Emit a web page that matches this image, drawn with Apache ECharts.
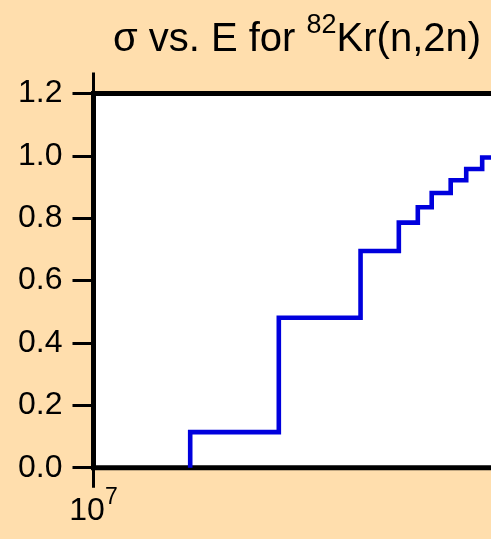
<!DOCTYPE html>
<html>
<head>
<meta charset="utf-8">
<script src="https://cdn.jsdelivr.net/npm/echarts@6/dist/echarts.min.js"></script>
<style>
  html, body { margin: 0; padding: 0; background: #FFDEAD; overflow: hidden; width: 491px; height: 539px; }
  #chart { width: 600px; height: 539px; }
</style>
</head>
<body>
<div id="chart"></div>
<script>
// Group boundaries (eV) and the cross section (b) on each group
const energyEdges = [1.606e7, 2.479e7, 3.700e7, 4.463e7, 4.898e7, 5.243e7, 5.754e7, 6.209e7, 6.714e7, 7.2e7];
const sigmaValues = [0.114, 0.481, 0.695, 0.786, 0.835, 0.881, 0.922, 0.958, 0.995];
const yTicks = [0.0, 0.2, 0.4, 0.6, 0.8, 1.0, 1.2];

// Step points: start at zero on the first edge, then one point per group start
const stepData = [[energyEdges[0], 0]];
sigmaValues.forEach((v, i) => stepData.push([energyEdges[i], v]));
stepData.push([energyEdges[energyEdges.length - 1], sigmaValues[sigmaValues.length - 1]]);

const FONT = 'Liberation Sans, Arial, sans-serif';
const chart = echarts.init(document.getElementById('chart'));

const tickStyle = { color: '#000', width: 3 };

chart.setOption({
  backgroundColor: '#FFDEAD',
  animation: false,
  title: {
    text: '{a|σ vs. E for }{s|82}{a|Kr(n,2n)}',
    left: 292,
    textAlign: 'center',
    top: 7,
    textStyle: {
      rich: {
        a: { fontFamily: FONT, fontSize: 40, fontWeight: 'normal', color: '#000' },
        s: { fontFamily: FONT, fontSize: 27, fontWeight: 'normal', color: '#000', padding: [0, 0, 28, 0] }
      }
    }
  },
  grid: {
    left: 93.5, top: 93.5, bottom: 71.3, width: 470,
    show: true, backgroundColor: '#fff', borderColor: '#000', borderWidth: 5
  },
  xAxis: [{
    type: 'log', logBase: 10, min: 1e7, max: 1e8, position: 'bottom',
    axisLine: { show: false },
    axisTick: { show: true, inside: false, length: 20, lineStyle: tickStyle },
    minorTick: { show: false },
    splitLine: { show: false },
    axisLabel: {
      margin: 18,
      formatter: v => '{a|10}{s|' + Math.round(Math.log10(v)) + '}',
      rich: {
        a: { fontFamily: FONT, fontSize: 32, color: '#000' },
        s: { fontFamily: FONT, fontSize: 23, color: '#000', padding: [0, 0, 28, 0] }
      }
    }
  }, {
    type: 'log', logBase: 10, min: 1e7, max: 1e8, position: 'top',
    axisLine: { show: false },
    axisTick: { show: true, inside: false, length: 21, lineStyle: tickStyle },
    axisLabel: { show: false },
    splitLine: { show: false }
  }],
  yAxis: {
    type: 'value', min: yTicks[0], max: yTicks[yTicks.length - 1], interval: 0.2,
    axisLine: { show: false },
    axisTick: { show: true, inside: false, length: 21, lineStyle: tickStyle },
    splitLine: { show: false },
    axisLabel: {
      margin: 31,
      fontFamily: FONT, fontSize: 32, color: '#000',
      formatter: v => v.toFixed(1)
    }
  },
  series: [{
    type: 'line',
    step: 'end',
    data: stepData,
    showSymbol: false,
    clip: true,
    lineStyle: { color: '#0000dd', width: 4.6, join: 'miter' }
  }]
});
</script>
</body>
</html>
